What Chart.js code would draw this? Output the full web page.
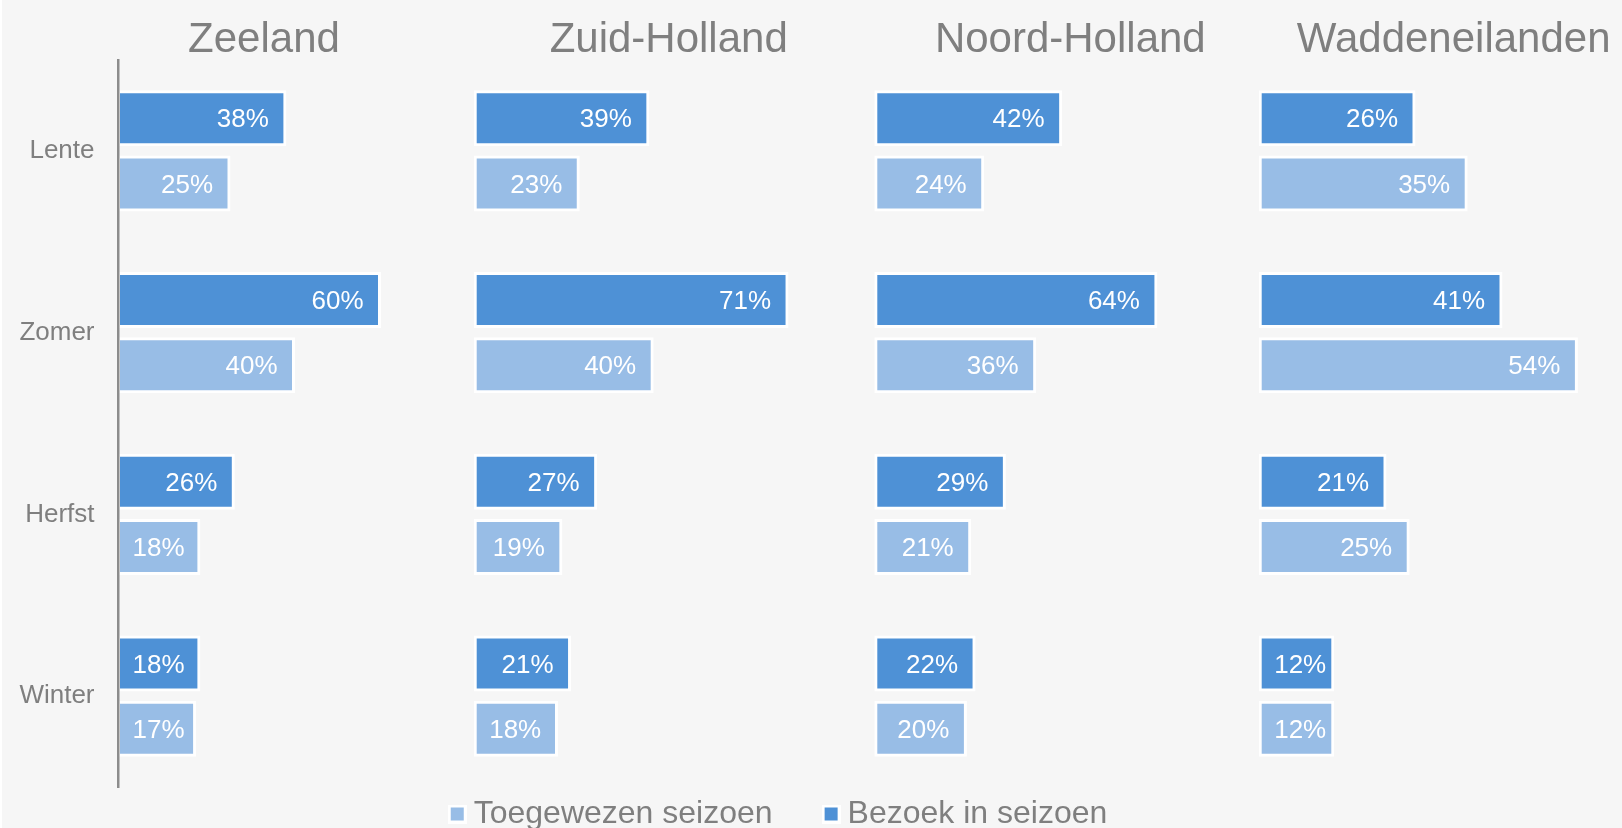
<!DOCTYPE html>
<html>
<head>
<meta charset="utf-8">
<script src="https://cdn.jsdelivr.net/npm/chart.js@4/dist/chart.umd.min.js"></script>
<style>
  html, body { margin: 0; padding: 0; overflow: hidden; background: #f6f6f6; }
  body { width: 1622px; height: 828px; position: relative; }
  #wrap { position: absolute; left: 0; top: 0; width: 1622px; height: 888px; }
  #edge { position: absolute; left: 0; top: 0; width: 2px; height: 828px; background: #ffffff; }
</style>
</head>
<body>
<div id="wrap"><canvas id="c" width="1622" height="888"></canvas></div>
<div id="edge"></div>
<script>
// ---- data ----
const regions = ['Zeeland', 'Zuid-Holland', 'Noord-Holland', 'Waddeneilanden'];
const seasons = ['Lente', 'Zomer', 'Herfst', 'Winter'];
const seriesVisit = 'Bezoek in seizoen';
const seriesAssigned = 'Toegewezen seizoen';

const bezoekZeeland = [38, 60, 26, 18];
const toegewezenZeeland = [25, 40, 18, 17];
const bezoekZuidHolland = [39, 71, 27, 21];
const toegewezenZuidHolland = [23, 40, 19, 18];
const bezoekNoordHolland = [42, 64, 29, 22];
const toegewezenNoordHolland = [24, 36, 21, 20];
const bezoekWadden = [26, 41, 21, 12];
const toegewezenWadden = [35, 54, 25, 12];

const bezoekPerRegion = [bezoekZeeland, bezoekZuidHolland, bezoekNoordHolland, bezoekWadden];
const toegewezenPerRegion = [toegewezenZeeland, toegewezenZuidHolland, toegewezenNoordHolland, toegewezenWadden];

// ---- layout / style ----
const AREA_LEFT = 118, AREA_RIGHT = 1564;
const panelZeroPx = [120, 476.7, 877.3, 1261.7];
const pxPerPct = [4.30, 4.35, 4.33, 5.80];
const titleOffset = [144, 192, 193, 192];
const DARK = '#4e91d6';
const LIGHT = '#98bde6';
const TEXT = '#7f7f7f';
const FONT = '"Liberation Sans", Arial, sans-serif';

const barCommon = {
  borderColor: '#ffffff',
  borderWidth: 3,
  borderSkipped: false,
  inflateAmount: 3,
  categoryPercentage: 0.7175,
  barPercentage: 0.767,
  clip: false
};

const datasets = [];
const scales = {
  y: {
    type: 'category',
    stacked: true,
    grid: { display: false, drawTicks: false },
    border: { display: true, color: '#8c8c8c', width: 2.5, z: 1 },
    ticks: { color: TEXT, font: { family: FONT, size: 26 }, padding: 23.5 },
    afterFit: (s) => { s.width = AREA_LEFT; }
  }
};

regions.forEach((r, i) => {
  const id = 'x' + i;
  scales[id] = {
    type: 'linear',
    axis: 'x',
    display: false,
    stacked: false,
    min: (AREA_LEFT - panelZeroPx[i]) / pxPerPct[i],
    max: (AREA_RIGHT - panelZeroPx[i]) / pxPerPct[i]
  };
  datasets.push(Object.assign({
    label: seriesVisit, data: bezoekPerRegion[i], xAxisID: id, yAxisID: 'y',
    stack: 'visit', backgroundColor: DARK
  }, barCommon));
  datasets.push(Object.assign({
    label: seriesAssigned, data: toegewezenPerRegion[i], xAxisID: id, yAxisID: 'y',
    stack: 'assigned', backgroundColor: LIGHT
  }, barCommon));
});

function swatch(color) {
  const c = document.createElement('canvas');
  c.width = 19; c.height = 19;
  const g = c.getContext('2d');
  g.fillStyle = '#ffffff'; g.fillRect(0, 0, 19, 19);
  g.fillStyle = color; g.fillRect(3, 3, 13, 13);
  return c;
}

const legendNudge = {
  id: 'legendNudge',
  afterLayout(chart) {
    const lg = chart.legend;
    if (lg) { lg.top -= 47; lg.bottom -= 47; }
  }
};

const valueLabels = {
  id: 'valueLabels',
  afterDatasetsDraw(chart) {
    const ctx = chart.ctx;
    ctx.save();
    ctx.font = '26px ' + FONT;
    ctx.fillStyle = '#ffffff';
    ctx.textBaseline = 'middle';
    ctx.textAlign = 'left';
    chart.data.datasets.forEach((ds, di) => {
      const meta = chart.getDatasetMeta(di);
      meta.data.forEach((bar, j) => {
        const txt = ds.data[j] + '%';
        const tw = ctx.measureText(txt).width;
        const p = bar.getProps(['x', 'base', 'y'], true);
        const right = Math.max(p.x - 14.5, p.base + 12.5 + tw);
        ctx.fillText(txt, right - tw, p.y + 2);
      });
    });
    ctx.restore();
  }
};

const panelTitles = {
  id: 'panelTitles',
  afterDraw(chart) {
    const ctx = chart.ctx;
    ctx.save();
    ctx.font = '42px ' + FONT;
    ctx.fillStyle = TEXT;
    ctx.textAlign = 'center';
    ctx.textBaseline = 'middle';
    regions.forEach((r, i) => {
      const sc = chart.scales['x' + i];
      ctx.fillText(r, sc.getPixelForValue(0) + titleOffset[i], 40.5);
    });
    ctx.restore();
  }
};

new Chart(document.getElementById('c'), {
  type: 'bar',
  data: { labels: seasons, datasets },
  options: {
    indexAxis: 'y',
    responsive: false,
    devicePixelRatio: 1,
    animation: false,
    layout: { padding: { top: 60, left: 0, right: 58, bottom: 1 } },
    scales,
    plugins: {
      tooltip: { enabled: false },
      title: { display: false },
      legend: {
        position: 'bottom',
        reverse: true,
        labels: {
          usePointStyle: true,
          pointStyleWidth: 1,
          padding: 58,
          color: TEXT,
          font: { family: FONT, size: 32 },
          filter: (item) => item.datasetIndex < 2,
          generateLabels(chart) {
            const items = Chart.defaults.plugins.legend.labels.generateLabels(chart);
            items.forEach((it) => { it.pointStyle = swatch(it.datasetIndex % 2 === 0 ? DARK : LIGHT); });
            return items;
          }
        }
      }
    }
  },
  plugins: [legendNudge, valueLabels, panelTitles]
});
</script>
</body>
</html>
